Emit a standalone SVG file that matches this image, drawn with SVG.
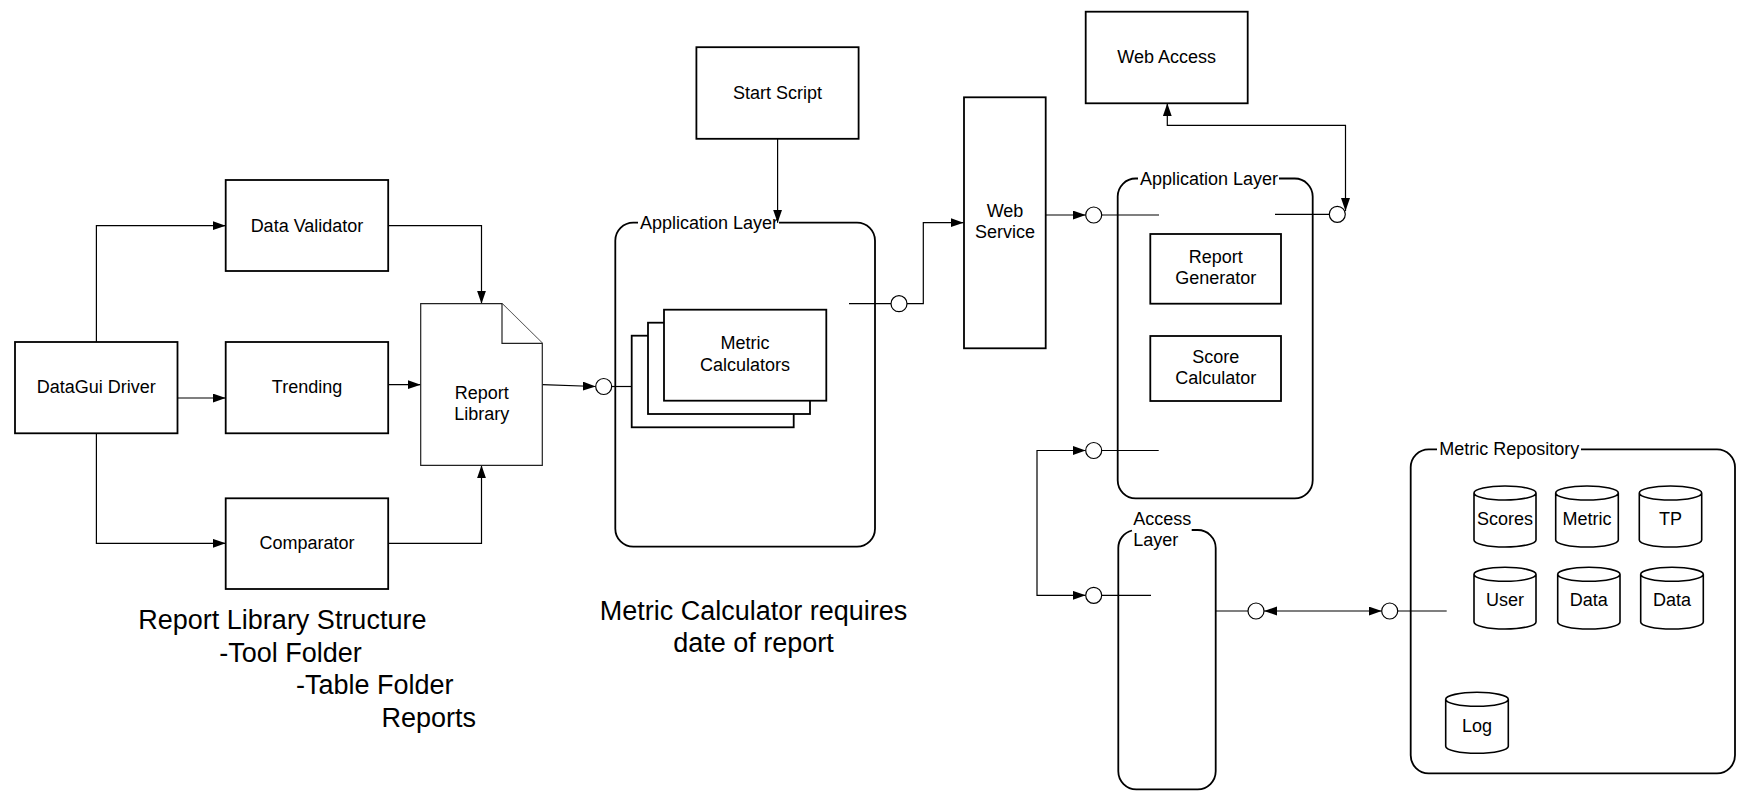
<svg xmlns="http://www.w3.org/2000/svg" width="1749" height="794" viewBox="0 0 1749 794">
<defs>
<marker id="arr" markerUnits="userSpaceOnUse" markerWidth="14" markerHeight="10" refX="13" refY="4.5" orient="auto-start-reverse" viewBox="0 0 14 10">
<path d="M0,0 L13,4.5 L0,9 Z" fill="#000"/>
</marker>
<style>
text{font-family:"Liberation Sans",Arial,sans-serif;fill:#000}
.t{font-size:18px;text-anchor:middle}
.lbl{font-size:18px}
.big{font-size:27px}
.box{fill:#fff;stroke:#000;stroke-width:1.8}
.doc{fill:#fff;stroke:#222;stroke-width:1.2}
.cont{fill:none;stroke:#000;stroke-width:1.8}
.cyl{fill:#fff;stroke:#000;stroke-width:1.6}
.c{fill:none;stroke:#000;stroke-width:1.2}
.ca{fill:none;stroke:#000;stroke-width:1.2;marker-end:url(#arr)}
.cb{fill:none;stroke:#000;stroke-width:1.2;marker-start:url(#arr);marker-end:url(#arr)}
.lol{fill:#fff;stroke:#000;stroke-width:1.2}
</style>
</defs>
<rect width="1749" height="794" fill="#fff"/>

<!-- containers -->
<g id="app-layer-1">
<path class="cont" d="M779,222.7 H857 A18,18 0 0 1 875,240.7 V528.7 A18,18 0 0 1 857,546.7 H633.3 A18,18 0 0 1 615.3,528.7 V240.7 A18,18 0 0 1 633.3,222.7 H638"/>
<text class="lbl" x="640" y="228.7">Application Layer</text>
</g>
<g id="app-layer-2">
<path class="cont" d="M1279,178.5 H1294.7 A18,18 0 0 1 1312.7,196.5 V480.3 A18,18 0 0 1 1294.7,498.3 H1135.7 A18,18 0 0 1 1117.7,480.3 V196.5 A18,18 0 0 1 1135.7,178.5 H1138"/>
<text class="lbl" x="1140" y="184.5">Application Layer</text>
</g>
<g id="access-layer">
<path class="cont" d="M1191.7,530 H1197.7 A18,18 0 0 1 1215.7,548 V771.3 A18,18 0 0 1 1197.7,789.3 H1136.3 A18,18 0 0 1 1118.3,771.3 V548 A18,18 0 0 1 1132,530.5"/>
<text class="lbl" x="1133.3" y="525">Access</text>
<text class="lbl" x="1133.3" y="545.7">Layer</text>
</g>
<g id="metric-repository">
<path class="cont" d="M1581,449.3 H1717 A18,18 0 0 1 1735,467.3 V755.3 A18,18 0 0 1 1717,773.3 H1428.7 A18,18 0 0 1 1410.7,755.3 V467.3 A18,18 0 0 1 1428.7,449.3 H1437"/>
<text class="lbl" x="1439.3" y="455.3">Metric Repository</text>
</g>

<!-- connectors -->
<g id="connectors">
<path class="ca" d="M96.4,342 V225.7 H225.7"/>
<path class="ca" d="M177.5,398 H225.7"/>
<path class="ca" d="M96.4,433.3 V543.3 H225.7"/>
<path class="ca" d="M388.2,225.7 H481.5 V303.7"/>
<path class="ca" d="M388.2,384.7 H420.7"/>
<path class="ca" d="M388.2,543.3 H481.5 V465.3"/>
<path class="ca" d="M542.3,384.7 L595.7,386.5"/>
<path class="c" d="M611.7,386.5 H631.7"/>
<path class="ca" d="M777.6,138.8 V222.7"/>
<path class="c" d="M849,303.7 H891"/>
<path class="ca" d="M907,303.7 H923.3 V222.7 H963.6"/>
<path class="ca" d="M1045.7,215 H1085.7"/>
<path class="c" d="M1101.7,215 H1159"/>
<path class="c" d="M1275,214.3 H1329.3"/>
<path class="cb" d="M1345.5,211 V125.3 H1167.3 V103.3"/>
<path class="c" d="M1101.7,450.5 H1158.7"/>
<path class="cb" d="M1085.7,450.5 H1037 V595.3 H1085.7"/>
<path class="c" d="M1101.7,595.3 H1151"/>
<path class="c" d="M1215.7,611 H1248"/>
<path class="cb" d="M1264,611 H1381.7"/>
<path class="c" d="M1397.7,611 H1446.7"/>
</g>

<!-- lollipops -->
<g id="ports">
<circle class="lol" cx="603.7" cy="386.5" r="8"/>
<circle class="lol" cx="899" cy="303.7" r="8"/>
<circle class="lol" cx="1093.7" cy="215" r="8"/>
<circle class="lol" cx="1337.3" cy="214.3" r="8"/>
<circle class="lol" cx="1093.7" cy="450.5" r="8"/>
<circle class="lol" cx="1093.7" cy="595.3" r="8"/>
<circle class="lol" cx="1256" cy="611" r="8"/>
<circle class="lol" cx="1389.7" cy="611" r="8"/>
</g>

<!-- nodes -->
<g id="datagui-driver">
<rect class="box" x="15" y="342" width="162.5" height="91.3"/>
<text class="t" x="96.3" y="393">DataGui Driver</text>
</g>
<g id="data-validator">
<rect class="box" x="225.7" y="180" width="162.5" height="91"/>
<text class="t" x="307" y="231.5">Data Validator</text>
</g>
<g id="trending">
<rect class="box" x="225.7" y="342" width="162.5" height="91.3"/>
<text class="t" x="307" y="393">Trending</text>
</g>
<g id="comparator">
<rect class="box" x="225.7" y="498.3" width="162.5" height="90.7"/>
<text class="t" x="307" y="549">Comparator</text>
</g>
<g id="report-library">
<path class="doc" d="M420.7,303.7 H502 L542.3,343.3 V465.3 H420.7 Z"/>
<path class="doc" d="M502,303.7 V343.3 H542.3"/>
<text class="t" x="481.7" y="399">Report</text>
<text class="t" x="481.7" y="420">Library</text>
</g>
<g id="start-script">
<rect class="box" x="696.4" y="47.2" width="162.2" height="91.6"/>
<text class="t" x="777.5" y="99">Start Script</text>
</g>
<g id="metric-calculators">
<rect class="box" x="631.7" y="335.7" width="162" height="91.6"/>
<rect class="box" x="648" y="322.7" width="162" height="91.3"/>
<rect class="box" x="664" y="309.7" width="162.3" height="91"/>
<text class="t" x="745" y="349">Metric</text>
<text class="t" x="745" y="370.7">Calculators</text>
</g>
<g id="web-service">
<rect class="box" x="964" y="97.3" width="81.7" height="251"/>
<text class="t" x="1005" y="216.7">Web</text>
<text class="t" x="1005" y="237.7">Service</text>
</g>
<g id="web-access">
<rect class="box" x="1085.7" y="11.7" width="162" height="91.6"/>
<text class="t" x="1166.7" y="63">Web Access</text>
</g>
<g id="report-generator">
<rect class="box" x="1150.3" y="234" width="130.7" height="69.7"/>
<text class="t" x="1215.7" y="263.3">Report</text>
<text class="t" x="1215.7" y="284.3">Generator</text>
</g>
<g id="score-calculator">
<rect class="box" x="1150.3" y="336" width="130.7" height="65"/>
<text class="t" x="1215.7" y="362.7">Score</text>
<text class="t" x="1215.7" y="384">Calculator</text>
</g>

<!-- repository cylinders -->
<g id="db-scores">
<path class="cyl" d="M1474,493 A31,7 0 0 1 1536,493 V540 A31,7 0 0 1 1474,540 Z M1474,493 A31,7 0 0 0 1536,493"/>
<text class="t" x="1505" y="525">Scores</text>
</g>
<g id="db-metric">
<path class="cyl" d="M1555.7,493 A31.3,7 0 0 1 1618.3,493 V540 A31.3,7 0 0 1 1555.7,540 Z M1555.7,493 A31.3,7 0 0 0 1618.3,493"/>
<text class="t" x="1587" y="525">Metric</text>
</g>
<g id="db-tp">
<path class="cyl" d="M1639.3,493 A31.2,7 0 0 1 1701.7,493 V540 A31.2,7 0 0 1 1639.3,540 Z M1639.3,493 A31.2,7 0 0 0 1701.7,493"/>
<text class="t" x="1670.5" y="525">TP</text>
</g>
<g id="db-user">
<path class="cyl" d="M1474,574.3 A31,7 0 0 1 1536,574.3 V622 A31,7 0 0 1 1474,622 Z M1474,574.3 A31,7 0 0 0 1536,574.3"/>
<text class="t" x="1505" y="606">User</text>
</g>
<g id="db-data-1">
<path class="cyl" d="M1557.7,574.3 A31.15,7 0 0 1 1620,574.3 V622 A31.15,7 0 0 1 1557.7,622 Z M1557.7,574.3 A31.15,7 0 0 0 1620,574.3"/>
<text class="t" x="1588.8" y="606">Data</text>
</g>
<g id="db-data-2">
<path class="cyl" d="M1640.7,574.3 A31.3,7 0 0 1 1703.3,574.3 V622 A31.3,7 0 0 1 1640.7,622 Z M1640.7,574.3 A31.3,7 0 0 0 1703.3,574.3"/>
<text class="t" x="1672" y="606">Data</text>
</g>
<g id="db-log">
<path class="cyl" d="M1445.7,699.3 A31.3,7 0 0 1 1508.3,699.3 V746.3 A31.3,7 0 0 1 1445.7,746.3 Z M1445.7,699.3 A31.3,7 0 0 0 1508.3,699.3"/>
<text class="t" x="1477" y="731.7">Log</text>
</g>

<!-- free text -->
<g id="notes">
<text class="big" x="138.3" y="629">Report Library Structure</text>
<text class="big" x="219.3" y="661.5">-Tool Folder</text>
<text class="big" x="296" y="694">-Table Folder</text>
<text class="big" x="381.5" y="726.5">Reports</text>
<text class="big" x="753.5" y="620" text-anchor="middle">Metric Calculator requires</text>
<text class="big" x="753.5" y="651.5" text-anchor="middle">date of report</text>
</g>
</svg>
